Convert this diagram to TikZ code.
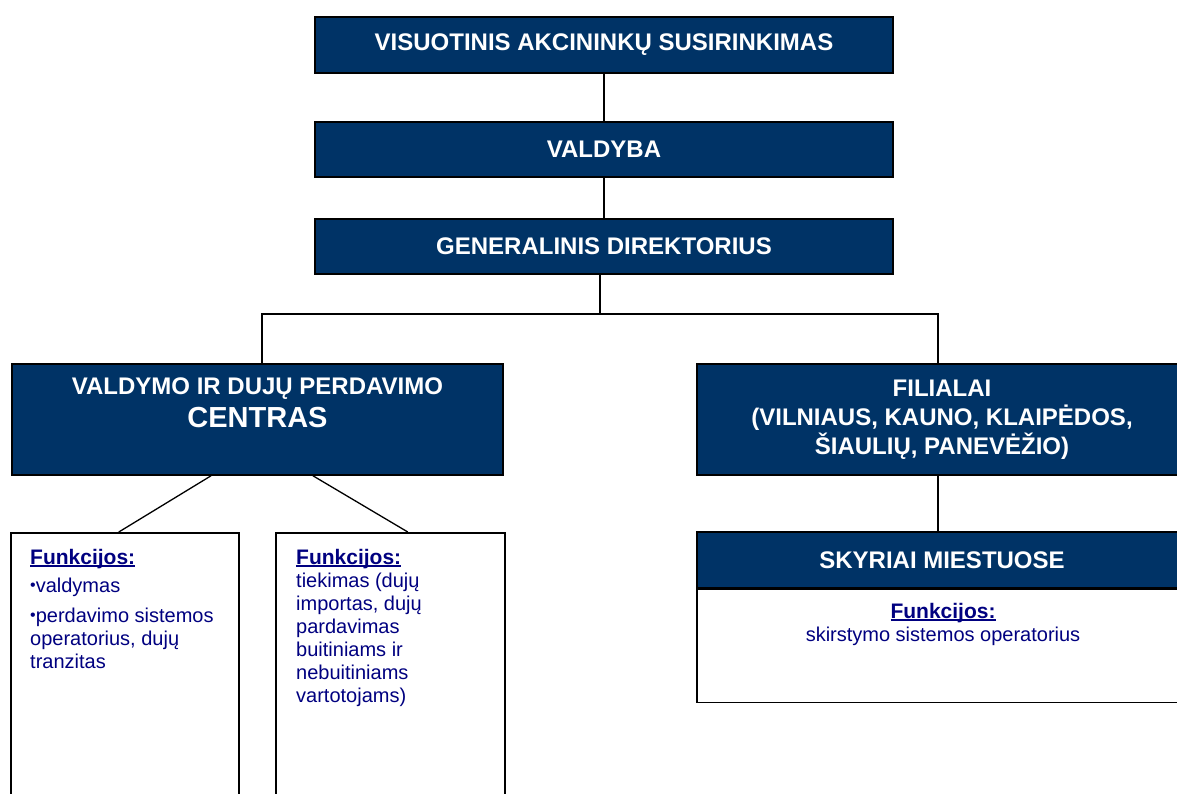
\documentclass[tikz,border=0pt]{standalone}
\usepackage{fontspec}
\setmainfont{Liberation Sans}
\definecolor{hdrblue}{RGB}{0,51,102}
\definecolor{txtnavy}{RGB}{0,0,128}
\newcommand\bul{{\fontsize{16}{16}\selectfont\raisebox{1.5pt}{•}}}
\newlength\ulw
\newcommand\funk{{\fontsize{21}{23}\selectfont\bfseries\settowidth\ulw{Funkcijos:}\rlap{\rule[-2.6pt]{\ulw}{1.8pt}}Funkcijos:}}
\begin{document}
\begin{tikzpicture}[x=1pt,y=-1pt,
  hdr/.style={draw=black,line width=1.6pt,fill=hdrblue,text=white,font=\fontsize{24}{29}\selectfont\bfseries,align=center,inner sep=0pt},
  hdrtext/.style={text=white,font=\fontsize{24}{29}\selectfont\bfseries,align=center,inner sep=0pt},
  wbox/.style={draw=black,line width=1.6pt,fill=white,inner sep=0pt},
  body/.style={text=txtnavy,font=\fontsize{20}{23}\selectfont,inner sep=0pt},
  conn/.style={draw=black,line width=1.3pt}]
\useasboundingbox (0,0) rectangle (1177,793);
\clip (0,0) rectangle (1177,793);
\fill[white] (0,0) rectangle (1177,793);
% top chain
\node[hdr,minimum width=578pt,minimum height=56pt] (vas) at (604,45) {VISUOTINIS AKCININKŲ SUSIRINKIMAS};
\node[hdr,minimum width=578pt,minimum height=55pt] (val) at (604,149.5) {VALDYBA};
\node[hdr,minimum width=578pt,minimum height=55pt] (gen) at (604,246.5) {GENERALINIS DIREKTORIUS};
% second level
\node[hdr,minimum width=491pt,minimum height=111pt] (vdc) at (257.5,419.5) {};
\node[hdrtext,anchor=north] (vdct) at (257.5,378) {VALDYMO IR DUJŲ PERDAVIMO\\[4pt]{\fontsize{29}{34}\selectfont CENTRAS}};
\node[hdr,minimum width=490pt,minimum height=111pt] (fil) at (942,419.5) {FILIALAI\\(VILNIAUS, KAUNO, KLAIPĖDOS,\\ŠIAULIŲ, PANEVĖŽIO)};
% third level right
\node[hdr,minimum width=490pt,minimum height=56pt] (sky) at (942,560) {SKYRIAI MIESTUOSE};
\node[wbox,minimum width=490pt,minimum height=113pt,anchor=north] (skyf) at (sky.south) {};
\node[body,align=center,anchor=north] (skyt) at (943,603) {\funk\\skirstymo sistemos operatorius};
% third level left
\node[wbox,minimum width=228pt,minimum height=280pt,anchor=north west] (b1) at (10,532) {};
\node[wbox,minimum width=229pt,minimum height=280pt,anchor=north west] (b2) at (275,532) {};
\node[body,align=left,anchor=north west] (b1t) at (30,549) {\funk\\[5pt]\bul valdymas\\[7pt]\bul perdavimo sistemos\\operatorius, dujų\\tranzitas};
\node[body,align=left,anchor=north west] (b2t) at (296,549) {\funk\\tiekimas (dujų\\importas, dujų\\pardavimas\\buitiniams ir\\nebuitiniams\\vartotojams)};
% connectors
\coordinate (j) at (600,314);
\draw[conn] (vas.south) -- (val.north);
\draw[conn] (val.south) -- (gen.north);
\draw[conn] (gen.south -| j) -- (j);
\draw[conn] ([xshift=4.5pt]vdc.north) |- (j) -| ([xshift=-4pt]fil.north);
\draw[conn] ([xshift=-46.5pt]vdc.south) -- ([xshift=-6pt]b1.north);
\draw[conn] ([xshift=55.5pt]vdc.south) -- ([xshift=17.5pt]b2.north);
\draw[conn] ([xshift=-4pt]fil.south) -- ([xshift=-4pt]sky.north);
\end{tikzpicture}
\end{document}
